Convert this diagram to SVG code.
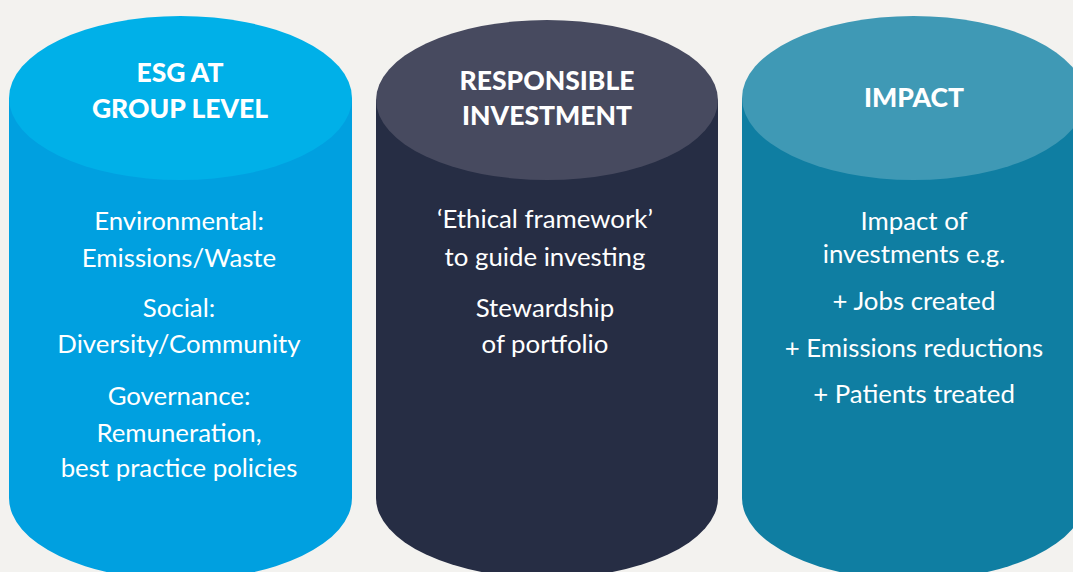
<svg xmlns="http://www.w3.org/2000/svg" width="1073" height="572" viewBox="0 0 1073 572">
  <style>
    .head { font-family: Lato, "Liberation Sans", sans-serif; font-weight: 900; font-size: 26.5px; fill: #ffffff; text-anchor: middle; }
    .body { font-family: Lato, "Liberation Sans", sans-serif; font-weight: 400; font-size: 25.8px; fill: #ffffff; text-anchor: middle; }
  </style>
  <rect width="1073" height="572" fill="#f3f2ef"/>

  <!-- Column 1: ESG at group level -->
  <g id="esg">
    <path d="M9,98 V498 A171.5,82 0 0 0 352,498 V98 Z" fill="#00a0e0"/>
    <ellipse cx="180.5" cy="98" rx="171.5" ry="82" fill="#00b0e8"/>
    <text class="head" x="180" y="82">ESG AT</text>
    <text class="head" x="180" y="118">GROUP LEVEL</text>
    <text class="body" x="179" y="230">Environmental:</text>
    <text class="body" x="179" y="267">Emissions/Waste</text>
    <text class="body" x="179" y="317">Social:</text>
    <text class="body" x="179" y="353">Diversity/Community</text>
    <text class="body" x="179" y="405">Governance:</text>
    <text class="body" x="179" y="442">Remuneration,</text>
    <text class="body" x="179" y="477">best practice policies</text>
  </g>

  <!-- Column 2: Responsible investment -->
  <g id="responsible">
    <path d="M376,100 V498 A171,80 0 0 0 718,498 V100 Z" fill="#262d44"/>
    <ellipse cx="547" cy="100" rx="171" ry="80" fill="#474a5f"/>
    <text class="head" x="547" y="90">RESPONSIBLE</text>
    <text class="head" x="547" y="125">INVESTMENT</text>
    <text class="body" x="545" y="228">‘Ethical framework’</text>
    <text class="body" x="545" y="266">to guide investing</text>
    <text class="body" x="545" y="317">Stewardship</text>
    <text class="body" x="545" y="353">of portfolio</text>
  </g>

  <!-- Column 3: Impact -->
  <g id="impact">
    <path d="M742,98 V498 A171.5,82 0 0 0 1085,498 V98 Z" fill="#0f7ea2"/>
    <ellipse cx="913.5" cy="98" rx="171.5" ry="82" fill="#3f99b5"/>
    <text class="head" x="914" y="107">IMPACT</text>
    <text class="body" x="914" y="230">Impact of</text>
    <text class="body" x="914" y="263">investments e.g.</text>
    <text class="body" x="914" y="310">+ Jobs created</text>
    <text class="body" x="914" y="357">+ Emissions reductions</text>
    <text class="body" x="914" y="403">+ Patients treated</text>
  </g>

  <g id="connectors"/>
</svg>
